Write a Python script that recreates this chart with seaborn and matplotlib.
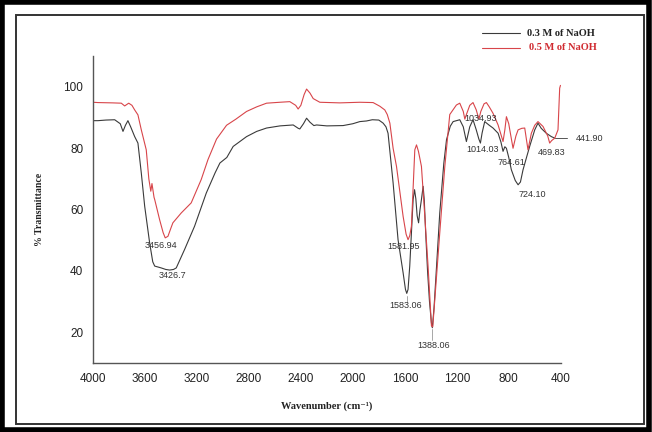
import matplotlib
matplotlib.use("Agg")
import matplotlib.pyplot as plt
from matplotlib.patches import Rectangle
from matplotlib.lines import Line2D
from matplotlib.ticker import MultipleLocator
import seaborn as sns
import pandas as pd

# ---------------- data ----------------
wn_03 = [4000, 3962, 3900, 3833, 3790, 3769, 3750, 3731, 3710, 3679, 3654, 3628, 3602,
         3564, 3540, 3525, 3475, 3440, 3410, 3380, 3359, 3295, 3218, 3128, 3060, 3023,
         2970, 2921, 2818, 2740, 2664, 2560, 2459, 2420, 2408, 2380, 2356, 2330, 2300,
         2279, 2200, 2075, 2000, 1946, 1895, 1850, 1800, 1767, 1745, 1729, 1690, 1652,
         1613, 1595, 1585, 1575, 1562, 1536, 1525, 1515, 1505, 1494, 1483, 1472, 1459,
         1450, 1440, 1425, 1410, 1395, 1388, 1375, 1355, 1331, 1300, 1279, 1250, 1228,
         1177, 1150, 1126, 1100, 1075, 1050, 1030, 1018, 1005, 985, 950, 921, 882, 860,
         844, 830, 818, 800, 780, 750, 728, 710, 690, 660, 639, 600, 575, 550, 511, 472,
         446]
t_03 = [89.0, 89.0, 89.2, 89.3, 88.0, 85.5, 87.5, 89.0, 87.0, 83.8, 81.7, 71.9, 61.1,
        49.2, 43.0, 41.6, 41.0, 40.5, 40.3, 40.5, 41.0, 47.0, 54.6, 65.4, 72.0, 75.2,
        77.0, 80.6, 83.8, 85.5, 86.6, 87.3, 87.6, 86.5, 86.3, 88.0, 89.8, 88.5, 87.4,
        87.6, 87.3, 87.4, 88.0, 88.7, 88.9, 89.3, 89.2, 88.2, 87.0, 84.9, 68.7, 50.2,
        39.4, 34.0, 32.7, 34.0, 41.6, 63.3, 66.5, 63.5, 58.0, 55.7, 60.0, 63.3, 67.6,
        63.0, 53.0, 40.0, 30.0, 23.0, 21.5, 28.0, 42.0, 58.9, 75.0, 82.8, 87.2, 88.7,
        89.3, 87.0, 82.2, 87.0, 89.3, 86.0, 83.0, 81.7, 85.0, 88.7, 87.5, 86.6, 84.9, 82.0,
        79.0, 80.5, 80.0, 77.0, 73.0, 69.5, 68.1, 69.0, 73.0, 77.5, 80.6, 86.0, 88.2, 86.5,
        84.9, 83.8, 83.3]

wn_05 = [4000, 3962, 3850, 3782, 3756, 3725, 3700, 3679, 3654, 3628, 3590, 3570, 3555,
         3546, 3530, 3525, 3487, 3460, 3444, 3423, 3400, 3385, 3321, 3244, 3167, 3115,
         3049, 2972, 2900, 2818, 2740, 2664, 2562, 2485, 2440, 2421, 2400, 2375, 2356,
         2330, 2305, 2254, 2100, 2023, 1946, 1844, 1792, 1754, 1735, 1715, 1690, 1664,
         1613, 1590, 1575, 1562, 1549, 1523, 1510, 1495, 1472, 1446, 1421, 1395, 1385,
         1369, 1331, 1292, 1254, 1203, 1177, 1150, 1138, 1126, 1100, 1075, 1050, 1030,
         1015, 990, 972, 950, 921, 882, 844, 830, 818, 800, 792, 767, 745, 728, 700, 677,
         652, 626, 600, 575, 536, 500, 485, 470, 446, 421, 408, 402]
t_05 = [95.0, 94.9, 94.8, 94.7, 93.8, 94.7, 94.0, 92.5, 90.9, 86.0, 79.5, 70.0, 66.0,
        68.5, 64.0, 63.3, 56.7, 52.5, 50.8, 51.3, 54.0, 55.7, 58.9, 62.2, 69.8, 76.3,
        83.0, 87.5, 89.5, 92.0, 93.5, 94.7, 95.0, 95.2, 94.0, 92.8, 94.0, 97.5, 99.3,
        98.0, 96.2, 95.0, 94.8, 94.9, 95.0, 94.9, 93.7, 92.5, 91.0, 88.2, 80.0, 74.1,
        57.8, 52.0, 50.2, 51.5, 54.6, 79.5, 81.1, 79.0, 74.1, 57.8, 41.6, 22.1, 21.8,
        30.7, 52.4, 74.1, 91.0, 94.1, 94.7, 92.0, 89.5, 91.0, 94.0, 94.9, 92.5, 89.5,
        92.0, 94.5, 94.9, 93.5, 91.4, 87.6, 82.2, 86.0, 90.3, 88.0, 86.0, 80.0, 84.0, 86.0,
        86.5, 86.6, 79.5, 84.9, 87.5, 88.7, 87.1, 84.0, 81.7, 82.5, 83.3, 86.0, 99.6, 100.5]

series_names = ["0.3 M of NaOH", "0.5 M of NaOH"]
peak_labels = ["3456.94", "3426.7", "1581.95", "1583.06", "1388.06", "1034.93",
               "1014.03", "764.61", "724.10", "469.83", "441.90"]
peak_label_x = [3473, 3385, 1613, 1594, 1377, 1019, 1004, 779, 619, 469, 179]
peak_label_y = [48.4, 38.5, 48.1, 28.6, 15.6, 89.8, 79.5, 75.4, 64.9, 78.6, 83.3]

x_ticks = [4000, 3600, 3200, 2800, 2400, 2000, 1600, 1200, 800, 400]
y_ticks = [20, 40, 60, 80, 100]

df = pd.concat([
    pd.DataFrame({"wn": wn_03, "T": t_03, "sample": series_names[0]}),
    pd.DataFrame({"wn": wn_05, "T": t_05, "sample": series_names[1]}),
])

# ---------------- figure ----------------
sns.set_style("white")
plt.rcParams["font.family"] = ["Liberation Sans", "DejaVu Sans"]

fig = plt.figure(figsize=(6.52, 4.32), dpi=100)
ax = fig.add_axes([0.1426, 0.1597, 0.860 - 0.1426, 0.8698 - 0.1597])

line_colors = {series_names[0]: "#3a3a3a", series_names[1]: "#d8454a"}
sns.lineplot(data=df, x="wn", y="T", hue="sample", palette=line_colors,
             estimator=None, sort=False, linewidth=0.8, legend=False, ax=ax)

ax.set_xlim(4000, 400)
ax.set_ylim(10, 110)
ax.set_xticks(x_ticks)
ax.set_yticks(y_ticks)
ax.xaxis.set_minor_locator(MultipleLocator(200))
ax.yaxis.set_minor_locator(MultipleLocator(10))
ax.tick_params(axis="both", which="major", direction="out", length=5, width=0.9,
               color="#444444", labelsize=8.5, labelcolor="#222222", pad=2)
ax.tick_params(axis="both", which="minor", direction="out", length=3, width=0.9,
               color="#444444")
for s in ["top", "right"]:
    ax.spines[s].set_visible(False)
for s in ["left", "bottom"]:
    ax.spines[s].set_color("#555555")
    ax.spines[s].set_linewidth(1.0)

ax.set_xlabel("Wavenumber (cm\u207b\u00b9)", family=["Liberation Serif", "DejaVu Serif"],
              fontweight="bold", fontsize=7.5, labelpad=12, color="#222222")
ax.set_ylabel("% Transmittance", family=["Liberation Serif", "DejaVu Serif"],
              fontweight="bold", fontsize=7, labelpad=14, color="#222222")

for lab, lx, ly in zip(peak_labels, peak_label_x, peak_label_y):
    ax.text(lx, ly, lab, fontsize=6.5, ha="center", va="center", color="#333333",
            clip_on=False)

# small leader lines
ax.plot([446, 350], [83.3, 83.3], color="#555555", lw=0.7, clip_on=False)
ax.plot([1585, 1585], [32.0, 30.0], color="#999999", lw=0.6)
ax.plot([1388, 1388], [21.0, 17.5], color="#999999", lw=0.6)

# legend (figure coords)
for i, (name, yy) in enumerate(zip(series_names, [0.923, 0.889])):
    fig.add_artist(Line2D([0.740, 0.797], [yy, yy], color=line_colors[name], lw=0.8,
                          transform=fig.transFigure))
    fig.text(0.808 + 0.004 * i, yy, name, family=["Liberation Serif", "DejaVu Serif"],
             fontweight="bold", fontsize=7.5, va="center", ha="left",
             color="#222222" if i == 0 else "#d02a30")

# frames
fig.add_artist(Rectangle((0.003, 0.004), 0.993, 0.992, transform=fig.transFigure,
                         fill=False, edgecolor="black", linewidth=4))
fig.add_artist(Rectangle((16 / 652, 1 - 424 / 432), (644 - 16) / 652, (424 - 15) / 432,
                         transform=fig.transFigure, fill=False, edgecolor="#333333",
                         linewidth=1.4))

fig.savefig("out.png", dpi=100)
